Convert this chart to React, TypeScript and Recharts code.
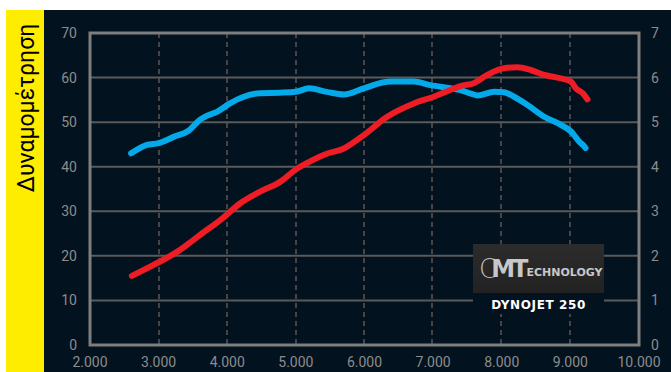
import React from 'react';
import { LineChart, Line, XAxis, YAxis, CartesianGrid, ReferenceArea } from 'recharts';

// red curve (left axis, 0-70)
const redRpm = [2610, 2920, 3310, 3510, 3700, 3900, 4190, 4480, 4770, 5020, 5160, 5450, 5700, 5990, 6330, 6720, 7010, 7250, 7400, 7600, 7790, 8030, 8230, 8420, 8620, 8860, 9010, 9080, 9180, 9250];
const redValues = [15.5, 17.9, 21.3, 23.6, 25.8, 28.0, 31.8, 34.4, 36.6, 39.6, 40.8, 42.9, 44.1, 47.1, 51.2, 54.2, 55.7, 57.2, 58.1, 58.8, 60.6, 62.1, 62.3, 61.7, 60.6, 59.8, 59.1, 57.6, 56.5, 55.1];

// blue curve (right axis, 0-7)
const blueRpm = [2600, 2830, 3000, 3220, 3430, 3600, 3700, 3850, 4040, 4240, 4480, 4770, 5000, 5190, 5450, 5700, 5990, 6380, 6720, 6960, 7250, 7400, 7550, 7650, 7890, 8030, 8180, 8380, 8620, 8860, 9010, 9130, 9200, 9220];
const blueValues = [4.30, 4.49, 4.53, 4.67, 4.80, 5.05, 5.14, 5.23, 5.42, 5.57, 5.65, 5.66, 5.68, 5.76, 5.68, 5.62, 5.76, 5.91, 5.91, 5.83, 5.76, 5.72, 5.64, 5.60, 5.68, 5.67, 5.57, 5.38, 5.12, 4.94, 4.79, 4.56, 4.46, 4.42];

const xTicks = [2000, 3000, 4000, 5000, 6000, 7000, 8000, 9000, 10000];
const xTickLabels = ['2.000', '3.000', '4.000', '5.000', '6.000', '7.000', '8.000', '9.000', '10.000'];
const leftTicks = [0, 10, 20, 30, 40, 50, 60, 70];
const rightTicks = [0, 1, 2, 3, 4, 5, 6, 7];

const redData = redRpm.map((rpm, i) => ({ rpm, value: redValues[i] }));
const blueData = blueRpm.map((rpm, i) => ({ rpm, value: blueValues[i] }));

const BG = '#03121f';
const tickStyle = { fill: '#8c8c8c', fontSize: 14, fontFamily: 'Roboto' };

export default function App() {
    return (
        <div style={{ position: 'absolute', left: 6, top: 10, width: 665, height: 362, background: BG, overflow: 'hidden' }}>
            <LineChart width={665} height={362} margin={{ top: 23, right: 2, bottom: 5, left: 44 }}>
                <CartesianGrid horizontal={false} stroke="#5e5656" strokeDasharray="5 4" strokeWidth={1.5} verticalPoints={[159, 227, 296, 364, 432, 501, 570].map(v => v - 6)} />
                <CartesianGrid vertical={false} stroke="#5a5a5a" strokeWidth={2} yAxisId="left" />
                <XAxis
                    dataKey="rpm"
                    type="number"
                    domain={[2000, 10000]}
                    ticks={xTicks}
                    tickFormatter={(v: number) => xTickLabels[xTicks.indexOf(v)]}
                    allowDuplicatedCategory={false}
                    axisLine={false}
                    tickLine={false}
                    tickSize={4}
                    tickMargin={8}
                    height={22}
                    tick={tickStyle}
                    interval={0}
                />
                <YAxis yAxisId="left" domain={[0, 70]} ticks={leftTicks} width={40} axisLine={false} tickLine={false} tickSize={6} tickMargin={7} tick={tickStyle} interval={0} />
                <YAxis yAxisId="right" orientation="right" domain={[0, 7]} ticks={rightTicks} width={30} axisLine={false} tickLine={false} tickSize={6} tickMargin={6} tick={tickStyle} interval={0} />
                <ReferenceArea yAxisId="left" x1={2000} x2={10000} y1={0} y2={70} fill="none" stroke="#7e7e7e" strokeWidth={3} ifOverflow="visible" />
                <Line yAxisId="right" data={blueData} dataKey="value" type="monotone" stroke="#04a9e9" strokeWidth={6} strokeLinecap="round" strokeLinejoin="round" dot={false} isAnimationActive={false} />
                <Line yAxisId="left" data={redData} dataKey="value" type="monotone" stroke="#ee1c25" strokeWidth={6} strokeLinecap="round" strokeLinejoin="round" dot={false} isAnimationActive={false} />
            </LineChart>

            <div style={{ position: 'absolute', left: 0, top: 0, width: 38, height: 362, background: '#ffed00' }} />
            <div style={{ position: 'absolute', left: 20, top: 98, transform: 'translate(-50%, -50%) rotate(-90deg)', whiteSpace: 'nowrap', fontFamily: 'Roboto', fontSize: 23, color: '#000' }}>
                Δυναμομέτρηση
            </div>

            <div style={{ position: 'absolute', left: 467, top: 234, width: 131, height: 70, background: BG }}>
                <div style={{ position: 'absolute', left: 0, top: 0, width: 131, height: 49, background: 'linear-gradient(#2c2c2c, #222)', display: 'flex', alignItems: 'center', paddingLeft: 6, boxSizing: 'border-box', fontFamily: 'DejaVu Sans', color: '#c8c8c8' }}>
                    <span style={{ fontSize: 26, fontWeight: 300, letterSpacing: -6, color: '#bbb' }}>C</span>
                    <span style={{ fontSize: 24, fontWeight: 700, letterSpacing: -3 }}>MT</span>
                    <span style={{ fontSize: 11, fontWeight: 700, marginTop: 8, marginLeft: 1 }}>ECHNOLOGY</span>
                </div>
                <div style={{ position: 'absolute', left: 0, top: 61, width: 131, textAlign: 'center', transform: 'translateY(-50%)', fontFamily: 'DejaVu Sans', fontWeight: 700, fontSize: 12, letterSpacing: 0.6, color: '#fff' }}>
                    DYNOJET 250
                </div>
            </div>
        </div>
    );
}
